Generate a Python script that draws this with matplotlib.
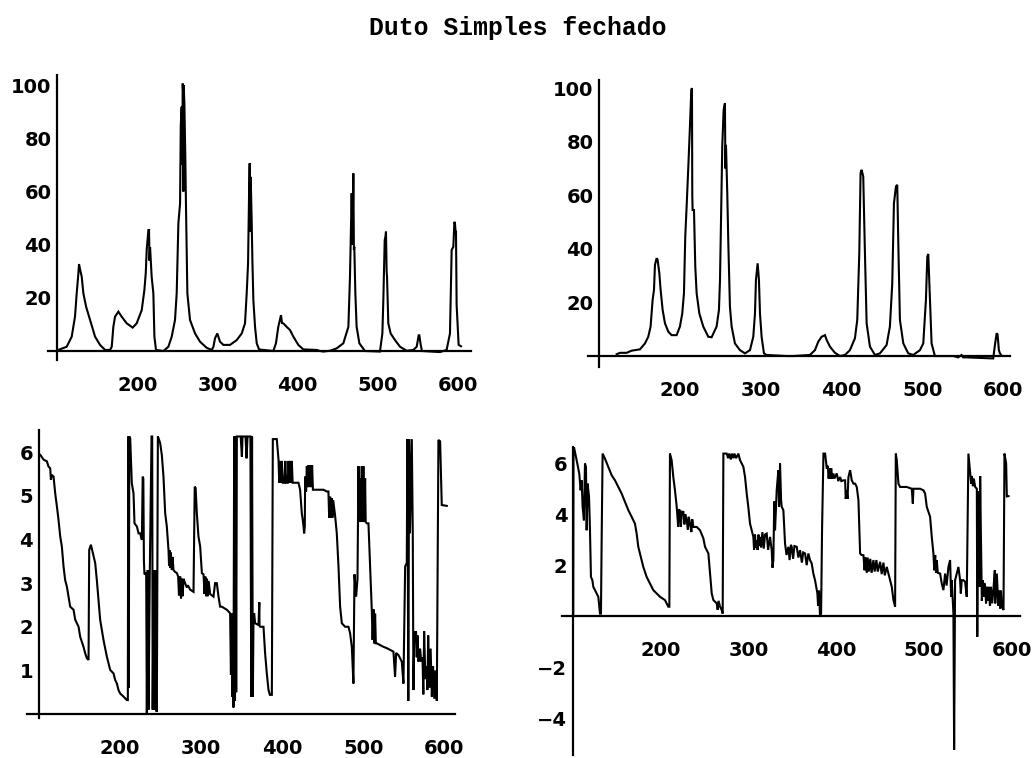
import numpy as np
import matplotlib
matplotlib.use('Agg')
import matplotlib.pyplot as plt

TITLE = 'Duto Simples fechado'

# traced points (x, y) for each of the four panels
tl_pts = [
    (100, 0), (101.5, 0.4), (112, 1.6), (118.3, 5.4), (122.4, 13), (124.5, 21.7), (126.6, 29.2),
    (127.4, 32.7), (128.5, 31), (130.8, 27.9), (132.8, 21.7), (136.2, 16.7), (141.1, 11.7),
    (147.4, 5.4), (153.6, 2.3), (159.9, 0.4), (166.1, 0.4), (168.2, 1.6), (170.2, 9.1),
    (172.3, 12.9), (176.5, 14.8), (180.6, 12.9), (186.9, 10.4), (194.3, 8.8), (199.3, 10.4),
    (205.6, 15.4), (208.9, 22.9), (210.6, 29.2), (211.8, 38), (213.9, 45.5), (214.7, 45.5),
    (215.3, 34), (216, 39), (218, 27.9), (220.1, 21.7), (221.4, 5.4), (223.4, 0.4), (232.6, 0),
    (238.8, 1.6), (243, 5.4), (247.1, 11.7), (249.2, 21.7), (251.3, 48), (253.4, 55.5),
    (254.3, 85), (255.4, 91.9), (256.2, 70), (256.7, 100.6), (257.1, 98), (257.5, 60),
    (257.9, 100), (258.8, 93.1), (260, 71.8), (260.8, 54.3), (262.5, 21.7), (265.8, 11.7),
    (272.1, 6.6), (278.3, 3.5), (286.6, 1.2), (292.9, 0.4), (295, 1.6), (297, 4.8),
    (299.9, 6.6), (303.2, 3.5), (307.4, 2.3), (315.7, 2.3), (324, 4.1), (330.3, 6.6),
    (334.4, 10.4), (336.5, 21.7), (338.2, 33), (339.5, 60), (340.2, 70.6), (341, 45),
    (341.5, 65.5), (342.7, 49.2), (343.6, 34.2), (344.8, 19.2), (346.9, 9.1), (349, 2.9),
    (351.9, 0.6), (369.7, 0), (373, 2.9), (375.9, 9.1), (379.3, 13.5), (380.5, 10.5),
    (382.2, 10.4), (386.3, 9.1), (390.5, 7.9), (394.7, 5.4), (400.9, 2.3), (407.1, 0.6),
    (423.8, 0.4), (427.9, 0), (432.1, -0.2), (440.4, 0.1), (448.7, 1), (457, 2.9),
    (463.3, 9.1), (465.3, 27.9), (467.4, 59.3), (468.5, 40), (469.5, 66.8), (470.2, 38),
    (470.7, 39.2), (472, 21.7), (473.6, 9.1), (477, 2.9), (484, 0), (502.7, -0.2),
    (505.7, 6.6), (506.9, 19.2), (508.6, 41.7), (509.5, 43), (510.2, 44.9), (511, 30),
    (511.5, 27.9), (513.1, 10.4), (516, 6.6), (521.5, 4.1), (527.7, 1.6), (536, 0.1),
    (544.3, 0.4), (548.5, 1.6), (551, 5.9), (551.8, 5.9), (553.5, 2.3), (555.1, 0),
    (577.5, -0.4), (585.8, 0.4), (590, 6.6), (592.1, 38), (594.2, 39.2), (595.5, 48.6),
    (596.2, 48), (597, 45), (597.5, 44.9), (598.3, 17.3), (600.8, 2.3), (603.7, 1.8),
]

tr_pts = [
    (121.9, 0.7), (126, 1.2), (134.2, 1.2), (140.4, 2), (150.7, 2.5), (156.9, 4.7), (161, 7.2),
    (163.9, 11), (166.4, 20.9), (168.1, 24.7), (169.3, 34), (171.4, 36.5), (172.6, 35.9),
    (174.7, 30.9), (176.3, 24.7), (178.8, 17.2), (181.7, 12.2), (185.8, 9.1), (189.9, 7.8),
    (196.1, 7.8), (200.2, 11), (203.1, 15.9), (205.2, 23.4), (206.8, 44.6), (208.5, 55.8),
    (210.6, 70.7), (212.6, 85.7), (214.3, 99.4), (215.1, 100), (215.5, 60), (215.9, 54.5),
    (217.6, 54.5), (219.2, 33.4), (220.9, 23.4), (224.2, 15.9), (229.1, 11), (235.3, 7.2),
    (239.4, 7), (245.6, 11), (248.5, 17.2), (249.8, 28.4), (251, 49.6), (252.6, 78.2),
    (254.3, 91.9), (255.9, 94.4), (256.5, 70), (257.2, 78.8), (258.8, 60.8), (260.1, 42.1),
    (262.1, 18.4), (264.2, 11), (268.3, 4.7), (274.5, 2.2), (280.7, 1), (286.9, 2.2),
    (291, 7.2), (293.1, 15.9), (294.3, 28.4), (296.4, 34.6), (298, 28.4), (299.3, 15.9),
    (301.3, 7.2), (304.2, 1), (307.5, 0.4), (332.3, 0), (340.5, 0), (361.1, 0.4),
    (367.3, 2.2), (371.5, 5.4), (375.6, 7.2), (379.7, 7.8), (381.8, 6), (385.9, 3.5),
    (392.1, 1.2), (398.3, 0), (404.5, 0.4), (410.6, 2.2), (416.8, 6.6), (419.7, 13.5),
    (422.2, 38.4), (423.8, 68.2), (425.1, 69.5), (427.1, 67), (429.2, 38.4), (431.3, 12.2),
    (435.4, 3.5), (441.6, 0.4), (447.8, 1), (456, 4.1), (460.1, 11), (463, 27), (465.1, 57),
    (467.6, 63.3), (469.2, 63.9), (470.5, 42.1), (472.5, 13.5), (476.7, 4.7), (482.8, 1),
    (489, 0.4), (497.3, 2.2), (501.4, 4.7), (504.7, 21), (506.4, 37.1), (507.6, 38.1),
    (509.7, 21), (511.7, 4.7), (515.8, 0), (538.5, 0), (544.7, -0.5), (548.8, 0.4),
    (550.8, -0.5), (555, -0.5), (588, -0.9), (590.1, 4.1), (592.2, 8.5), (593.4, 8),
    (595, 2.2), (596.3, 1), (598.3, 0.2),
]

bl_pts = [
    (101, 5.94), (102.1, 5.94), (106.2, 5.83), (110.3, 5.79), (112.3, 5.67), (114.4, 5.63),
    (115.2, 5.37), (116.4, 5.48), (118.5, 5.44), (120.5, 5.06), (122.6, 4.76), (124.6, 4.45),
    (126.7, 4.07), (128.7, 3.84), (130.8, 3.38), (132.8, 3.07), (134.9, 2.92), (136.9, 2.69),
    (139, 2.46), (143.1, 2.39), (145.2, 2.16), (149.3, 2), (151.3, 1.77), (155.4, 1.54),
    (157.5, 1.39), (159.5, 1.28), (161.6, 1.24), (162.4, 3.76), (164.5, 3.88), (166.9, 3.69),
    (169.8, 3.46), (171.8, 3.07), (175.9, 2.16), (180, 1.7), (184.2, 1.31), (188.3, 1.01),
    (192.4, 0.93), (194.4, 0.78), (196.5, 0.7), (198.5, 0.55), (200.6, 0.47), (204.7, 0.4),
    (208.8, 0.32), (210, 0.32), (210.5, 6.36), (211.2, 0.6), (211.8, 6.36), (212.9, 6.32),
    (214.9, 5.29), (217, 5.06), (218.2, 4.37), (221.1, 4.3), (223.2, 4.14), (225.2, 4.14),
    (227.3, 3.99), (228.3, 5.44), (229.1, 5.4), (229.8, 3.5), (230.5, 3.2), (232.6, 3.23),
    (233.4, 0.02), (234.5, 3.3), (235.5, 0.1), (237, 3.2), (239.2, 6.36), (240, 6.36),
    (240.6, 0.1), (241.8, 3.3), (242.8, 0.1), (243.7, 3.3), (244.8, 0.1), (245.7, 0.05),
    (247, 6.36), (247.8, 6.32), (249.8, 6.21), (251.9, 5.93), (253.9, 5.44), (256, 4.6),
    (258, 4.3), (260.1, 3.76), (260.8, 3.4), (261.5, 3.75), (262.2, 3.35), (263, 3.7),
    (264.2, 3.3), (265, 3.6), (266.3, 3.3), (268, 3.26), (270.4, 3.23), (272, 3.15),
    (273, 2.72), (274.5, 3.15), (275.5, 2.65), (276.5, 3.1), (277.5, 2.7), (278.6, 3.1),
    (280.5, 3.0), (282.7, 2.9), (284, 2.95), (286.8, 2.85), (290.9, 2.8), (292.4, 5.21),
    (293.5, 5.18), (295, 4.6), (297, 4.07), (299.1, 3.84), (301.2, 3.23), (303.2, 3.2),
    (304.5, 2.75), (305.5, 3.15), (306.5, 2.7), (307.5, 3.1), (308.5, 2.7), (309.5, 3.05),
    (311.4, 2.75), (313.5, 2.72), (315.5, 2.69), (317.5, 3.0), (319.6, 3.0), (321.7, 2.69),
    (323.7, 2.46), (325.8, 2.46), (331.9, 2.39), (336, 2.31), (337, 0.9), (337.8, 2.3),
    (338.5, 0.4), (339.5, 2.3), (340.1, 0.15), (341, 6.36), (342, 0.3), (342.7, 6.36),
    (343.5, 0.5), (344.3, 6.36), (349, 6.36), (350.5, 5.9), (351.3, 6.36), (355, 6.36),
    (356.2, 5.86), (357.5, 6.36), (361, 6.36), (362, 0.4), (363, 6.36), (364, 0.4),
    (364.8, 2.2), (365.6, 2.31), (366.8, 2.08), (370.9, 2.04), (372, 2.56), (372.2, 2.04),
    (373, 2.0), (377.1, 2.0), (379.1, 1.39), (381.2, 0.93), (383.3, 0.55), (385, 0.44),
    (387.4, 0.44), (388.6, 6.3), (393.5, 6.3), (395.6, 5.83), (396.5, 5.3), (397.5, 5.8),
    (398.5, 5.3), (399.7, 5.8), (401, 5.3), (403, 5.3), (404, 5.8), (405, 5.3), (407, 5.3),
    (408, 5.8), (409, 5.3), (410, 5.8), (411, 5.3), (412, 5.8), (413, 5.3), (420.2, 5.3),
    (422.2, 5.14), (424.3, 4.6), (425.5, 4.45), (426.4, 4.3), (427.2, 4.14), (428, 4.3),
    (428.4, 5.44), (429.6, 5.1), (430.5, 5.68), (431.5, 5.2), (432.5, 5.7), (433.5, 5.2),
    (435, 5.7), (436, 5.2), (437, 5.7), (438, 5.14), (446.9, 5.14), (451, 5.14),
    (455.1, 5.1), (457.1, 5.1), (458, 4.5), (459.2, 4.98), (460, 4.5), (461, 4.95),
    (462, 4.5), (463, 4.9), (465.4, 4.53), (467.4, 4.14), (469.5, 3.38), (471.5, 2.46),
    (473.6, 2.08), (477.7, 2.0), (481.8, 2.0), (483.8, 1.85), (485.9, 1.54), (487.9, 0.7),
    (489.2, 3.2), (491.2, 2.69), (492.9, 3.1), (494.1, 5.68), (495, 4.4), (496.1, 5.4),
    (497, 4.4), (498.2, 5.68), (499, 4.4), (500.2, 5.68), (501, 4.4), (502.3, 5.4),
    (503, 4.4), (504.4, 4.37), (506.4, 4.37), (508.5, 3.38), (510.5, 2.39), (511.5, 1.7),
    (512.6, 2.4), (513.5, 1.62), (514.6, 2.3), (515.5, 1.62), (516.7, 1.62), (520.8, 1.58),
    (524.9, 1.54), (529, 1.51), (533.1, 1.47), (537.2, 1.43), (539.2, 0.85), (540.5, 1.4),
    (543.4, 1.35), (547.5, 1.2), (549.5, 0.7), (551.6, 3.38), (553.6, 3.46), (554.4, 6.3),
    (555.5, 0.3), (556.5, 6.3), (557.5, 4.14), (559.8, 6.3), (561, 4.14), (561.8, 0.55),
    (563, 1.9), (563.9, 1.66), (565, 1.9), (565.9, 1.3), (567, 1.8), (568, 1.2), (570, 1.5),
    (571.5, 1.2), (573, 1.3), (574, 0.45), (575, 1.9), (576.5, 0.8), (578, 1.1), (579, 0.55),
    (580, 1.8), (581.5, 0.6), (583, 1.5), (584.5, 0.4), (586, 1.1), (587.5, 0.35), (589, 1.0),
    (590.6, 0.3), (592.6, 6.28), (594.7, 6.25), (596.7, 4.79), (602.9, 4.77),
]

br_pts = [
    (100.3, 0), (100.6, 6.64), (101.1, 6.64), (104.2, 6.12), (107.2, 5.59), (108.7, 4.94),
    (109.9, 5.33), (111, 4.29), (112.5, 3.76), (113.7, 5.99), (114.8, 5.86), (115.6, 3.37),
    (116.7, 5.2), (118.3, 4.68), (119.4, 3.37), (120.5, 1.54), (122.1, 1.41), (123.2, 1.15),
    (125.1, 1.02), (127, 0.89), (128.9, 0.76), (130.8, 0.1), (131.9, 0.1), (132.7, 2.98),
    (133.8, 6.38), (136.5, 6.18), (140.3, 5.86), (144.1, 5.53), (147.9, 5.33), (151.7, 5.07),
    (155.5, 4.81), (159.3, 4.48), (163.1, 4.16), (166.9, 3.9), (170.7, 3.63), (172.6, 3.24),
    (174.5, 2.72), (176.4, 2.46), (180.2, 1.93), (184, 1.54), (187.8, 1.28), (191.6, 1.02),
    (195.4, 0.89), (199.2, 0.76), (204.9, 0.63), (208.7, 0.37), (209.9, 0.37), (210.6, 6.38),
    (212.5, 6.12), (214.4, 5.46), (216.3, 4.94), (218.3, 4.29), (220, 3.5), (221, 4.2),
    (222.1, 4.09), (223, 3.5), (224, 4.1), (225.9, 4.09), (227, 3.6), (228, 4.0),
    (229.7, 3.76), (231, 3.4), (232, 3.9), (233.5, 3.63), (235, 3.3), (236, 3.8),
    (237.3, 3.5), (241.1, 3.5), (244.9, 3.37), (248.7, 3.05), (250.6, 2.72), (254.4, 2.46),
    (256.3, 1.67), (258.2, 0.89), (260.1, 0.63), (263.9, 0.5), (265, 0.25), (266, 0.6),
    (267.7, 0.37), (269.6, 0.24), (270.7, 0.1), (271.5, 6.38), (275.3, 6.38), (277, 6.2),
    (278, 6.38), (280, 6.15), (281, 6.38), (283, 6.2), (284, 6.38), (286, 6.2),
    (288.6, 6.38), (290.5, 6.12), (294.3, 5.86), (296.2, 5.46), (298.1, 4.81), (299.9, 4.29),
    (301.9, 3.63), (305.7, 3.11), (306.5, 2.6), (307.5, 3.2), (308.5, 2.7), (309.5, 2.98),
    (310.5, 2.6), (311.5, 3.2), (312.5, 2.75), (313.3, 3.11), (314.5, 2.7), (316, 3.3),
    (317.5, 2.65), (319, 3.2), (320.9, 3.24), (322.5, 2.6), (324.7, 3.11), (326.6, 2.59),
    (327.5, 1.9), (328.5, 2.2), (329.5, 4.5), (330.4, 3.37), (332.3, 4.94), (334.2, 5.73),
    (335, 4.3), (336.1, 5.99), (337.3, 4.55), (338, 4.29), (339.9, 4.16), (341.8, 2.85),
    (343.5, 2.4), (345.6, 2.72), (347, 2.2), (348.5, 2.8), (349.4, 2.72), (351, 2.25),
    (352.5, 2.75), (355.1, 2.72), (357, 2.3), (358.9, 2.59), (361, 2.1), (362.5, 2.5),
    (364.6, 2.46), (366.5, 2.0), (368.4, 2.46), (370.3, 2.2), (372.2, 2.07), (374.1, 1.67),
    (376, 1.41), (378.7, 0.89), (379.5, 0.4), (380.6, 1.0), (381.7, -0.03), (382.9, 0.1),
    (384, 3.37), (385.6, 6.38), (387.5, 6.38), (389.4, 5.79), (390.5, 5.9), (391.5, 5.4),
    (392.5, 5.8), (393.2, 5.4), (394.5, 5.8), (395.5, 5.4), (397, 5.6), (398, 5.4),
    (400.8, 5.6), (402.5, 5.3), (404.6, 5.46), (406, 5.3), (408.4, 5.33), (410.3, 5.33),
    (411, 4.6), (412.2, 4.94), (413, 4.6), (414.1, 5.46), (416, 5.73), (417.9, 5.33),
    (419.8, 5.2), (421.7, 5.2), (423.6, 5.07), (425.5, 4.55), (427.4, 2.46), (429, 2.4),
    (431.2, 2.39), (432.5, 1.8), (433.5, 2.3), (435, 1.7), (436, 2.3), (437.5, 1.75),
    (439, 2.25), (440.5, 1.7), (442.6, 2.2), (444, 1.75), (446, 2.2), (447.5, 1.75),
    (450.2, 2.13), (452, 1.65), (454, 2.1), (455.5, 1.6), (457.8, 1.93), (459.7, 1.67),
    (461.6, 1.41), (463.5, 1.15), (465.4, 0.63), (467.3, 0.37), (468.1, 6.38), (469.2, 6.12),
    (471.1, 5.2), (473, 5.07), (480.6, 5.07), (486.3, 5.0), (487.5, 4.42), (488.2, 5.0),
    (495.8, 5.0), (499.6, 4.94), (501.5, 4.81), (503.4, 4.29), (507.2, 3.9), (509.1, 3.11),
    (511, 2.46), (512, 1.8), (513, 2.4), (514, 1.7), (514.8, 2.2), (516, 1.7),
    (518.6, 1.67), (520.5, 1.28), (522.4, 1.02), (524.3, 1.67), (526, 1.2), (528.1, 1.93),
    (530, 2.2), (531.2, 0.76), (531.9, 1.41), (533.8, 0.1), (534.6, -5.25), (535.7, 1.41),
    (537.6, 1.67), (539.5, 1.93), (541.4, 1.41), (542.2, 0.89), (543.3, 1.41), (545.2, 1.41),
    (547.1, 1.35), (549, 0.76), (550.9, 6.38), (552.9, 5.6), (554, 5.2), (554.8, 5.5),
    (556, 5.1), (557, 5.4), (558.6, 5.07), (560.5, 5.0), (561, -0.81), (561.5, 3.0),
    (562.4, 4.9), (563.5, 1.15), (564.3, 5.5), (565, 3.5), (566.2, 0.6), (567.3, 1.41),
    (568.1, 0.76), (569, 1.3), (570, 1.15), (571, 0.5), (571.9, 1.15), (573, 0.6),
    (574, 1.15), (575.5, 0.4), (576.5, 1.15), (578, 0.5), (579.5, 1.1), (581, 1.8),
    (581.5, 0.5), (583.3, 1.67), (585, 0.4), (586, 1.0), (587.1, 0.3), (588, 1.0),
    (589, 0.37), (590.9, 0.24), (592, 6.38), (593.9, 6.0), (594.7, 4.7), (596.6, 4.71),
]

x_ticks = [200, 300, 400, 500, 600]
tl_yticks = [20, 40, 60, 80, 100]
tr_yticks = [20, 40, 60, 80, 100]
bl_yticks = [1, 2, 3, 4, 5, 6]
br_yticks = [-4, -2, 2, 4, 6]

# panel layout: axes box (fig fraction), xlim, ylim
panels = [
    (tl_pts, tl_yticks, [0.0466, 0.525, 0.4083, 0.376], (89, 616), (-3.4, 103.8)),
    (tr_pts, tr_yticks, [0.5681, 0.5158, 0.4077, 0.3786], (86.4, 608.7), (-4.1, 103)),
    (bl_pts, bl_yticks, [0.0261, 0.0528, 0.4135, 0.38], (85.8, 613), (-0.09, 6.51)),
    (br_pts, br_yticks, [0.543, 0.004, 0.4425, 0.406], (87.5, 609.7), (-5.45, 6.63)),
]

fig = plt.figure(figsize=(10.35, 7.58), dpi=100)
fig.text(0.5, 1 - 35 / 758, TITLE, ha='center', va='baseline',
         family='Liberation Mono', fontsize=17.8, fontweight='bold')

for pts, yticks, box, xlim, ylim in panels:
    ax = fig.add_axes(box)
    xs = [p[0] for p in pts]
    ys = [p[1] for p in pts]
    ax.plot(xs, ys, color='black', lw=1.5, solid_joinstyle='miter')
    ax.set_xlim(*xlim)
    ax.set_ylim(*ylim)
    ax.spines['left'].set_position(('data', 100))
    ax.spines['bottom'].set_position(('data', 0))
    ax.spines['top'].set_visible(False)
    ax.spines['right'].set_visible(False)
    for s in ('left', 'bottom'):
        ax.spines[s].set_linewidth(1.6)
    ax.set_xticks(x_ticks)
    ax.set_yticks(yticks)
    ax.tick_params(axis='x', length=0, pad=18, labelsize=14)
    ax.tick_params(axis='y', length=0, pad=4, labelsize=14)
    for lab in ax.get_xticklabels() + ax.get_yticklabels():
        lab.set_fontweight('bold')
    ax.patch.set_visible(False)

fig.savefig('out.png', dpi=100)
